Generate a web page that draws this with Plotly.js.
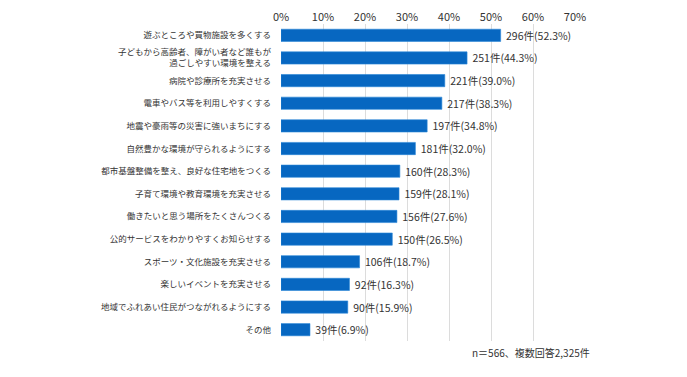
<!DOCTYPE html>
<html><head><meta charset="utf-8">
<script src="https://cdn.plot.ly/plotly-3.0.1.min.js"></script>
<style>html,body{margin:0;padding:0;background:#fff}#chart{width:687px;height:377px}</style>
</head><body><div id="chart"></div>
<script>
var categories = [
  "遊ぶところや買物施設を多くする",
  "子どもから高齢者、障がい者など誰もが<br>過ごしやすい環境を整える",
  "病院や診療所を充実させる",
  "電車やバス等を利用しやすくする",
  "地震や豪雨等の災害に強いまちにする",
  "自然豊かな環境が守られるようにする",
  "都市基盤整備を整え、良好な住宅地をつくる",
  "子育て環境や教育環境を充実させる",
  "働きたいと思う場所をたくさんつくる",
  "公的サービスをわかりやすくお知らせする",
  "スポーツ・文化施設を充実させる",
  "楽しいイベントを充実させる",
  "地域でふれあい住民がつながれるようにする",
  "その他"
];
var counts = [296, 251, 221, 217, 197, 181, 160, 159, 156, 150, 106, 92, 90, 39];
var percents = [52.3, 44.3, 39.0, 38.3, 34.8, 32.0, 28.3, 28.1, 27.6, 26.5, 18.7, 16.3, 15.9, 6.9];
var tickVals = [0, 10, 20, 30, 40, 50, 60, 70];
var tickText = ["0%", "10%", "20%", "30%", "40%", "50%", "60%", "70%"];
var note = "n＝566、複数回答2,325件";

var labels = counts.map(function(c, i){ return " " + c + "件(" + percents[i].toFixed(1) + "%)"; });
var font = "'Noto Sans CJK JP', 'Noto Sans', sans-serif";

var trace = {
  type: "bar", orientation: "h",
  x: percents, y: categories,
  text: labels, textposition: "outside", cliponaxis: false, constraintext: "none",
  textfont: {family: font, size: 10.5, color: "#333"},
  marker: {color: "#0767c1", line: {color: "#2a86d6", width: 0.6}},
  width: 0.54, hoverinfo: "none"
};

var layout = {
  width: 687, height: 377,
  margin: {l: 281, r: 112, t: 24, b: 36},
  paper_bgcolor: "#fff", plot_bgcolor: "#fff",
  showlegend: false,
  font: {family: font, size: 9, color: "#333"},
  xaxis: {
    side: "top", range: [0, 70], tickvals: tickVals, ticktext: tickText,
    showgrid: true, gridcolor: "#dcdcdc", gridwidth: 1, zeroline: false,
    showline: false, ticks: "", tickfont: {family: font, size: 11, color: "#333"},
    fixedrange: true
  },
  yaxis: {
    autorange: "reversed", categoryorder: "array", categoryarray: categories,
    ticks: "", ticklen: 0, ticklabelstandoff: 9, showline: false, showgrid: false,
    tickfont: {family: font, size: 8.5, color: "#333"}, fixedrange: true
  },
  annotations: [{
    xref: "paper", yref: "paper", x: 0.85, y: -0.005, yanchor: "top", xanchor: "center",
    text: note, showarrow: false, font: {family: font, size: 10, color: "#333"}
  }]
};

Plotly.newPlot("chart", [trace], layout, {displayModeBar: false, staticPlot: true});
</script>
</body></html>
